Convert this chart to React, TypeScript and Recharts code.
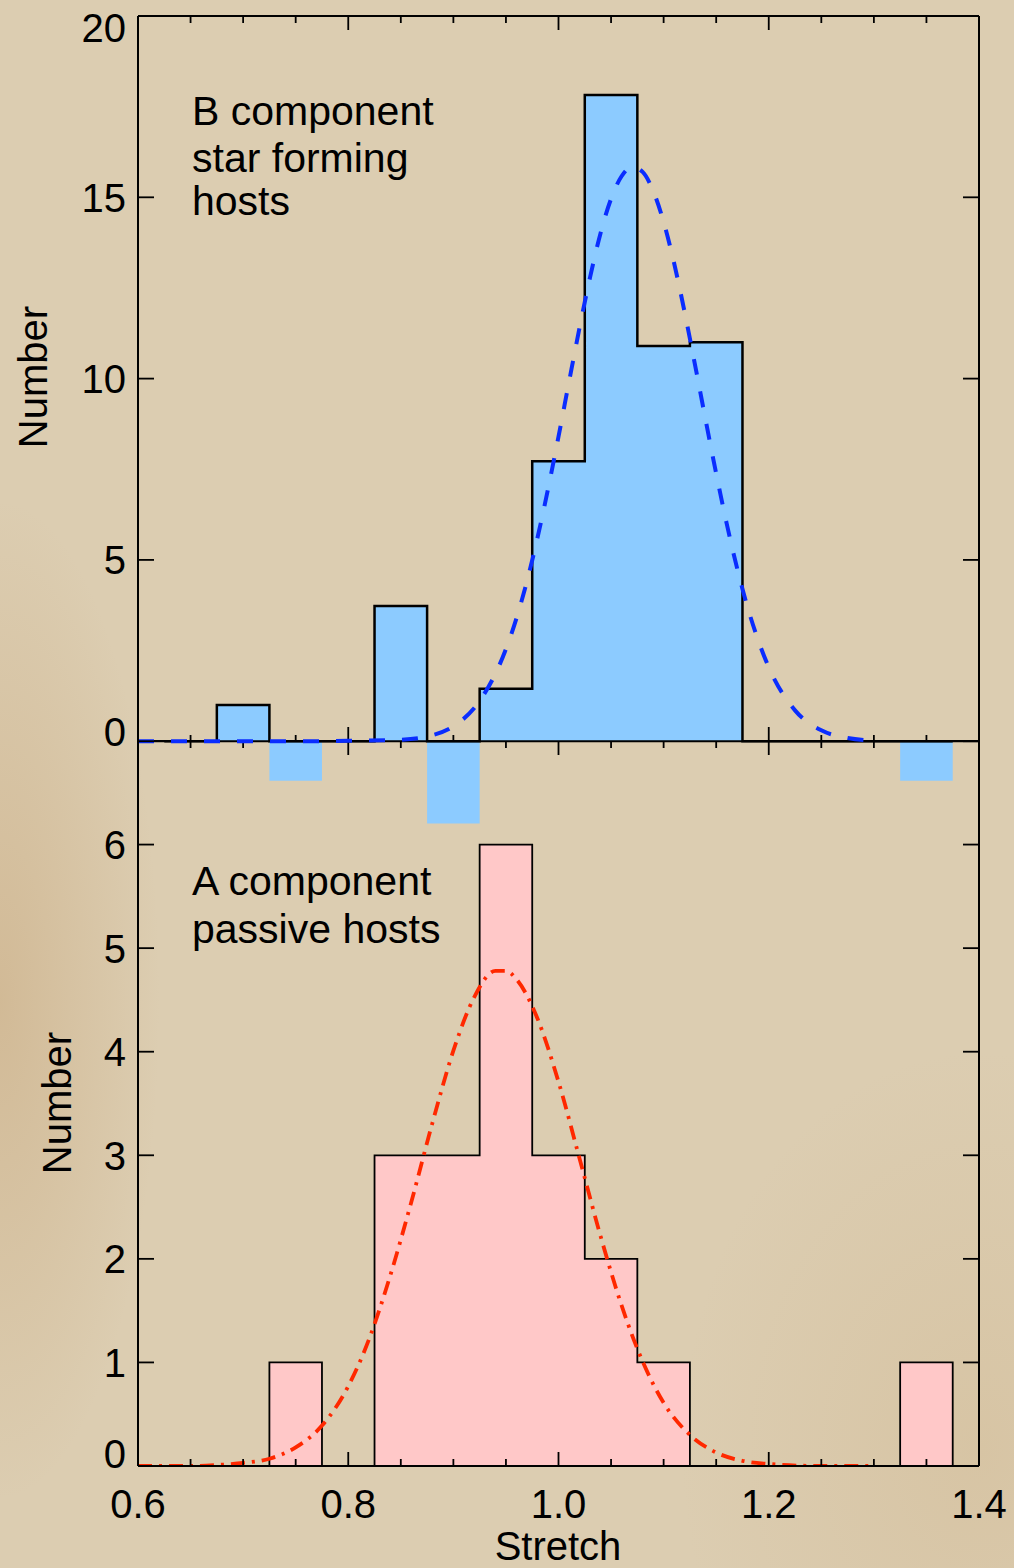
import React from "react";
import { ComposedChart, Area, Line, XAxis, YAxis, ReferenceLine } from "recharts";

// histogram bins (centre of each 0.05 wide bin)
const binCenters = [0.65, 0.7, 0.75, 0.8, 0.85, 0.9, 0.95, 1.0, 1.05, 1.1, 1.15, 1.2, 1.25, 1.3, 1.35];
const binWidth = 0.05;

// B component (star forming hosts) - some bins go negative
const bCounts = [0, 1, -1.09, 0, 3.73, -2.27, 1.45, 7.72, 17.82, 10.9, 11.0, 0, 0, 0, -1.09];
// A component (passive hosts)
const aCounts = [0, 0, 1, 0, 3, 3, 6, 3, 2, 1, 0, 0, 0, 0, 1];

// gaussian fits
const bFitX = [0.6, 0.65, 0.7, 0.75, 0.8, 0.85, 0.875, 0.9, 0.925, 0.95, 0.96, 0.97, 0.98, 0.99, 1.0, 1.01, 1.02, 1.03, 1.04, 1.05, 1.06, 1.07, 1.08, 1.09, 1.1, 1.11, 1.12, 1.13, 1.14, 1.15, 1.16, 1.17, 1.18, 1.19, 1.2, 1.225, 1.25, 1.275, 1.3];
const bFitY = [0, 0, 0, 0, 0.01, 0.04, 0.13, 0.41, 1.11, 2.54, 3.39, 4.41, 5.61, 6.95, 8.4, 9.91, 11.4, 12.79, 14.01, 14.96, 15.58, 15.84, 15.7, 15.18, 14.32, 13.18, 11.83, 10.36, 8.85, 7.38, 6.0, 4.76, 3.68, 2.78, 2.04, 0.85, 0.3, 0.09, 0.02];

const aFitX = [0.6, 0.625, 0.65, 0.675, 0.7, 0.725, 0.75, 0.775, 0.8, 0.82, 0.84, 0.86, 0.88, 0.9, 0.92, 0.94, 0.95, 0.96, 0.98, 1.0, 1.02, 1.04, 1.06, 1.08, 1.1, 1.125, 1.15, 1.175, 1.2, 1.25, 1.3];
const aFitY = [0, 0, 0, 0.01, 0.03, 0.07, 0.18, 0.39, 0.77, 1.23, 1.84, 2.55, 3.31, 4.01, 4.53, 4.78, 4.78, 4.7, 4.32, 3.71, 2.97, 2.22, 1.55, 1.01, 0.61, 0.3, 0.13, 0.05, 0.02, 0, 0];

const xTicks = [0.6, 0.65, 0.7, 0.75, 0.8, 0.85, 0.9, 0.95, 1.0, 1.05, 1.1, 1.15, 1.2, 1.25, 1.3, 1.35, 1.4];
const topYTicks = [0, 5, 10, 15, 20];
const botYTicks = [0, 1, 2, 3, 4, 5, 6];

const FONT = "'Liberation Sans', Arial, Helvetica, sans-serif";
const W = 1014;
const H = 1568;

type Row = { x: number; fill?: number; edge?: number; fit?: number };

function buildRows(counts: number[], fx: number[], fy: number[]): Row[] {
  const rows: Row[] = binCenters.map((c, i) => ({
    x: c - binWidth / 2,
    fill: counts[i],
    edge: Math.max(counts[i], 0),
  }));
  rows.push({ x: binCenters[binCenters.length - 1] + binWidth / 2, fill: 0, edge: 0 });
  fx.forEach((x, i) => rows.push({ x, fit: fy[i] }));
  return rows.sort((a, b) => a.x - b.x);
}

const topData = buildRows(bCounts, bFitX, bFitY);
const botData = buildRows(aCounts, aFitX, aFitY);

const isMajor = (v: number) => Math.abs(v * 5 - Math.round(v * 5)) < 1e-6;

const leftTick = (nudge: Record<number, number>) => (props: any) => {
  const { x, y, payload } = props;
  const v = payload.value;
  return (
    <g>
      <line x1={x} y1={y} x2={x + 16} y2={y} stroke="#000" strokeWidth={1.8} />
      <text x={x - 12} y={y + (nudge[v] || 0)} dy="0.36em" textAnchor="end" fontSize={40} fontFamily={FONT} fill="#000">
        {v}
      </text>
    </g>
  );
};

const rightTick = (props: any) => {
  const { x, y } = props;
  return <line x1={x - 16} y1={y} x2={x} y2={y} stroke="#000" strokeWidth={1.8} />;
};

const xTick = (mode: "down" | "up" | "both", label: boolean) => (props: any) => {
  const { x, y, payload } = props;
  const major = isMajor(payload.value);
  let y1 = y;
  let y2 = y;
  if (mode === "down") y2 = y + (major ? 14 : 7);
  if (mode === "up") y1 = y - (major ? 14 : 7);
  if (mode === "both") {
    y1 = y - (major ? 14 : 6);
    y2 = y + (major ? 14 : 7);
  }
  return (
    <g>
      <line x1={x} y1={y1} x2={x} y2={y2} stroke="#000" strokeWidth={1.8} />
      {label && major ? (
        <text x={x} y={y + 52} textAnchor="middle" fontSize={40} fontFamily={FONT} fill="#000">
          {payload.value.toFixed(1)}
        </text>
      ) : null}
    </g>
  );
};

const axisLine = { stroke: "#000", strokeWidth: 2 };

// axes get a 1px size (recharts skips axes of size 0); margins are one less to keep the frame in place
function TopPanel() {
  return (
    <ComposedChart width={W} height={850} data={topData} margin={{ top: 15, right: 34, bottom: 0, left: 137 }}>
      <XAxis
        dataKey="x"
        type="number"
        orientation="top"
        domain={[0.6, 1.4]}
        allowDataOverflow
        ticks={xTicks}
        interval={0}
        height={1}
        tickSize={0}
        tickMargin={0}
        tickLine={false}
        axisLine={axisLine}
        tick={xTick("down", false)}
      />
      <YAxis
        yAxisId="l"
        type="number"
        domain={[-3, 20]}
        allowDataOverflow
        ticks={topYTicks}
        interval={0}
        width={1}
        tickSize={0}
        tickMargin={0}
        tickLine={false}
        axisLine={axisLine}
        tick={leftTick({ 20: 12, 0: -10 })}
      />
      <YAxis
        yAxisId="r"
        orientation="right"
        type="number"
        domain={[-3, 20]}
        allowDataOverflow
        ticks={topYTicks}
        interval={0}
        width={1}
        tickSize={0}
        tickMargin={0}
        tickLine={false}
        axisLine={axisLine}
        tick={rightTick}
      />
      <Area
        yAxisId="l"
        dataKey="fill"
        type="stepAfter"
        baseValue={0}
        connectNulls
        stroke="none"
        fill="#8ccbff"
        fillOpacity={1}
        dot={false}
        activeDot={false}
        isAnimationActive={false}
      />
      <ReferenceLine yAxisId="l" y={0} stroke="#000" strokeWidth={2} />
      <Line
        yAxisId="l"
        dataKey="edge"
        type="stepAfter"
        connectNulls
        stroke="#000"
        strokeWidth={2.5}
        dot={false}
        activeDot={false}
        isAnimationActive={false}
      />
      <Line
        yAxisId="l"
        dataKey="fit"
        type="monotone"
        connectNulls
        stroke="#0a2dff"
        strokeWidth={4}
        strokeDasharray="16 17"
        dot={false}
        activeDot={false}
        isAnimationActive={false}
      />
    </ComposedChart>
  );
}

function BottomPanel() {
  return (
    <ComposedChart width={W} height={H} data={botData} margin={{ top: 740, right: 34, bottom: 101, left: 137 }}>
      <XAxis
        xAxisId="t"
        dataKey="x"
        type="number"
        orientation="top"
        domain={[0.6, 1.4]}
        allowDataOverflow
        ticks={xTicks}
        interval={0}
        height={1}
        tickSize={0}
        tickMargin={0}
        tickLine={false}
        axisLine={axisLine}
        tick={xTick("both", false)}
      />
      <XAxis
        xAxisId="b"
        dataKey="x"
        type="number"
        domain={[0.6, 1.4]}
        allowDataOverflow
        ticks={xTicks}
        interval={0}
        height={1}
        tickSize={0}
        tickMargin={0}
        tickLine={false}
        axisLine={axisLine}
        tick={xTick("up", true)}
      />
      <YAxis
        yAxisId="l"
        type="number"
        domain={[0, 7]}
        allowDataOverflow
        ticks={botYTicks}
        interval={0}
        width={1}
        tickSize={0}
        tickMargin={0}
        tickLine={false}
        axisLine={axisLine}
        tick={leftTick({ 0: -12 })}
      />
      <YAxis
        yAxisId="r"
        orientation="right"
        type="number"
        domain={[0, 7]}
        allowDataOverflow
        ticks={botYTicks}
        interval={0}
        width={1}
        tickSize={0}
        tickMargin={0}
        tickLine={false}
        axisLine={axisLine}
        tick={rightTick}
      />
      <Area
        xAxisId="b"
        yAxisId="l"
        dataKey="fill"
        type="stepAfter"
        baseValue={0}
        connectNulls
        stroke="none"
        fill="#ffc8c8"
        fillOpacity={1}
        dot={false}
        activeDot={false}
        isAnimationActive={false}
      />
      <Line
        xAxisId="b"
        yAxisId="l"
        dataKey="edge"
        type="stepAfter"
        connectNulls
        stroke="#000"
        strokeWidth={1.8}
        dot={false}
        activeDot={false}
        isAnimationActive={false}
      />
      <Line
        xAxisId="b"
        yAxisId="l"
        dataKey="fit"
        type="monotone"
        connectNulls
        stroke="#ff2800"
        strokeWidth={3.8}
        strokeDasharray="14 7 3 7"
        dot={false}
        activeDot={false}
        isAnimationActive={false}
      />
    </ComposedChart>
  );
}

export default function App() {
  return (
    <div
      style={{
        position: "absolute",
        left: 0,
        top: 0,
        width: W,
        height: H,
        overflow: "hidden",
        background:
          "radial-gradient(ellipse 160px 500px at 0px 1000px, rgba(190,150,100,0.35), rgba(190,150,100,0)), radial-gradient(ellipse 300px 400px at 980px 1450px, rgba(200,170,125,0.25), rgba(200,170,125,0)), #dccdb1",
        fontFamily: FONT,
      }}
    >
      <div style={{ position: "absolute", left: 0, top: 0 }}>
        <BottomPanel />
      </div>
      <div style={{ position: "absolute", left: 0, top: 0 }}>
        <TopPanel />
      </div>
      <svg width={W} height={H} style={{ position: "absolute", left: 0, top: 0, pointerEvents: "none" }}>
        <g fontFamily={FONT} fill="#000">
          <text x={192} y={125} fontSize={41}>B component</text>
          <text x={192} y={172} fontSize={41}>star forming</text>
          <text x={192} y={215} fontSize={41}>hosts</text>
          <text x={192} y={895} fontSize={41}>A component</text>
          <text x={192} y={943} fontSize={41}>passive hosts</text>
          <text x={558} y={1560} fontSize={40} textAnchor="middle">Stretch</text>
          <text x={33} y={377} fontSize={40} textAnchor="middle" dy="0.36em" transform="rotate(-90 33 377)">Number</text>
          <text x={57} y={1103} fontSize={40} textAnchor="middle" dy="0.36em" transform="rotate(-90 57 1103)">Number</text>
        </g>
      </svg>
    </div>
  );
}
